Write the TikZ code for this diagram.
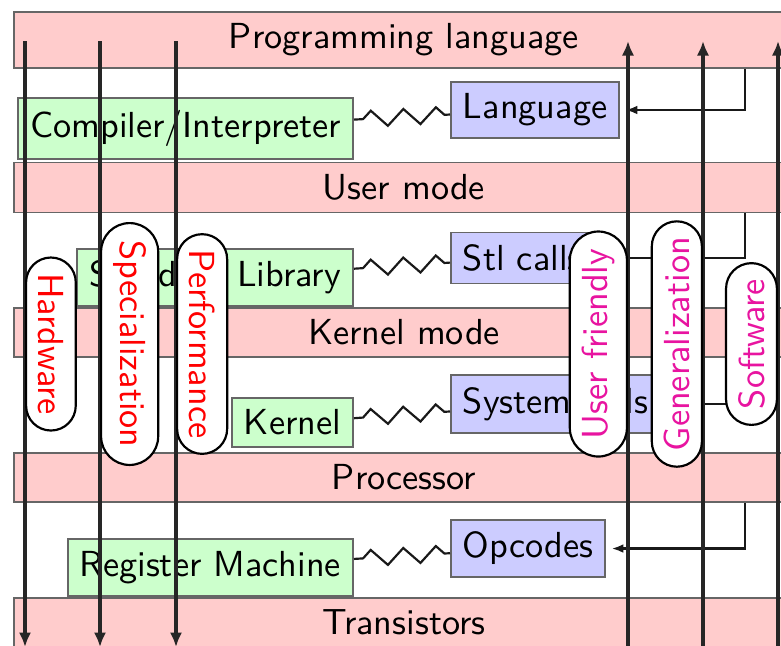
\documentclass[tikz,border=0pt]{standalone}
\usetikzlibrary{arrows.meta,decorations.pathmorphing,shapes.misc,calc}
\renewcommand{\familydefault}{\sfdefault}
\definecolor{softmag}{RGB}{232,20,160}
\begin{document}
\begin{tikzpicture}[x=0.276pt, y=-0.276pt,
  band/.style={draw=black!60, line width=0.5pt, fill=red!20, minimum width=215.3pt, anchor=west, inner sep=3.33pt},
  impl/.style={draw=black!60, line width=0.5pt, fill=green!20, anchor=east, inner sep=3.33pt},
  iface/.style={draw=black!60, line width=0.5pt, fill=blue!20, anchor=west, inner sep=3.33pt},
  zz/.style={draw=black!90, line width=0.6pt, decorate,
    decoration={zigzag, segment length=9pt, amplitude=2.2pt, pre length=2.5pt}},
  conn/.style={draw=black!90, line width=0.6pt, -{Latex[length=3.2pt,width=2.4pt]}, shorten >=1.5pt},
  axis/.style={draw=black!85, line width=0.9pt, -{Latex[length=4pt,width=3.4pt]}},
  stad/.style={rounded rectangle, draw=black, line width=0.6pt, fill=white, inner sep=3.33pt}]
\useasboundingbox (0,0) rectangle (781,645);
\clip (0,0) rectangle (781,645);

% abstraction layers
\node[band] (prog)   at (13,40)    {Programming language};
\node[band] (user)   at (13,187.5) {User mode};
\node[band] (kern)   at (13,332.5) {Kernel mode};
\node[band] (proc)   at (13,477.5) {Processor};
\node[band] (trans)  at (13,622.5) {Transistors};

% implementations and their interfaces
\node[impl] (comp)  at (354,128.5) {Compiler/Interpreter};
\node[impl] (stdl)  at (354,277.5) {Standard Library};
\node[impl] (kimpl) at (354,422.5) {Kernel};
\node[impl] (regm)  at (354,567.5) {Register Machine};

\node[iface] (lang) at (450,110)   {Language};
\node[iface] (stl)  at (450,258)   {Stl calls};
\node[iface] (sys)  at (450,404)   {System calls};
\node[iface] (opc)  at (450,548.5) {Opcodes};

\draw[zz] (comp) -- (lang);
\draw[zz] (stdl) -- (stl);
\draw[zz] (kimpl) -- (sys);
\draw[zz] (regm) -- (opc);

% each layer exposes its interface
\coordinate (rail) at (745,0);
\draw[conn] (prog.south -| rail) |- (lang.east);
\draw[conn] (user.south -| rail) |- (stl.east);
\draw[conn] (kern.south -| rail) |- (sys.east);
\draw[conn] (proc.south -| rail) |- (opc.east);

% long axes
\coordinate (d1t) at (25,41);  \coordinate (d1b) at (25,647);
\coordinate (d2t) at (100,41); \coordinate (d2b) at (100,647);
\coordinate (d3t) at (176,41); \coordinate (d3b) at (176,647);
\coordinate (u1t) at (628,41); \coordinate (u1b) at (628,647);
\coordinate (u2t) at (703,41); \coordinate (u2b) at (703,647);
\coordinate (u3t) at (778,41); \coordinate (u3b) at (778,647);

\draw[axis] (d1t) -- (d1b);
\draw[axis] (d2t) -- (d2b);
\draw[axis] (d3t) -- (d3b);
\draw[axis] (u1b) -- (u1t);
\draw[axis] (u2b) -- (u2t);
\draw[axis] (u3b) -- (u3t);

\node[stad, text=red, rotate=-90, anchor=south] (hw)   at ($(d1t)!0.5!(d1b)$) {Hardware};
\node[stad, text=red, rotate=-90, anchor=south] (spec) at ($(d2t)!0.5!(d2b)$) {Specialization};
\node[stad, text=red, rotate=-90, anchor=south] (perf) at ($(d3t)!0.5!(d3b)$) {Performance};
\node[stad, text=softmag, rotate=90, anchor=south] (uf)  at ($(u1t)!0.5!(u1b)$) {User friendly};
\node[stad, text=softmag, rotate=90, anchor=south] (gen) at ($(u2t)!0.5!(u2b)$) {Generalization};
\node[stad, text=softmag, rotate=90, anchor=south] (sw)  at ($(u3t)!0.5!(u3b)$) {Software};
\end{tikzpicture}
\end{document}
